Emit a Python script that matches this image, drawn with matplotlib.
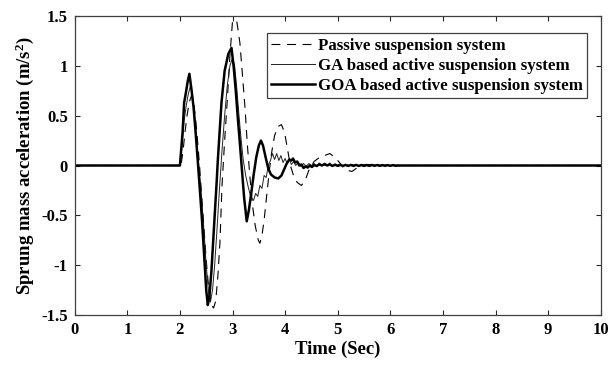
import matplotlib
matplotlib.use("Agg")
import matplotlib.pyplot as plt

# ── data ─────────────────────────────────────────────────────────────────
passive_t = [0.0, 2.02, 2.06, 2.1, 2.14, 2.18, 2.22, 2.26, 2.3, 2.34, 2.38, 2.42, 2.46,
             2.5, 2.55, 2.6, 2.64, 2.68, 2.72, 2.76, 2.8, 2.85, 2.9, 2.95, 3.0, 3.03,
             3.07, 3.1, 3.14, 3.19, 3.24, 3.28, 3.33, 3.38, 3.43, 3.49, 3.52, 3.56,
             3.6, 3.65, 3.7, 3.75, 3.8, 3.86, 3.93, 3.99, 4.05, 4.1, 4.16, 4.23, 4.31,
             4.38, 4.45, 4.55, 4.65, 4.75, 4.85, 4.95, 5.05, 5.12, 5.2, 5.27, 5.35,
             5.45, 5.55, 5.7, 5.85, 6.2, 10.0]
passive_y = [0.0, 0.0, 0.15, 0.35, 0.52, 0.64, 0.7, 0.64, 0.46, 0.22, -0.05, -0.35, -0.65,
             -0.95, -1.25, -1.4, -1.43, -1.36, -1.12, -0.78, -0.2, 0.25, 0.65, 1.1, 1.45, 1.55,
             1.48, 1.38, 1.23, 0.9, 0.56, 0.22, -0.11, -0.4, -0.6, -0.75, -0.78, -0.7,
             -0.55, -0.3, -0.05, 0.15, 0.3, 0.39, 0.41, 0.33, 0.15, 0.0, -0.1, -0.17, -0.2,
             -0.15, -0.05, 0.04, 0.08, 0.1, 0.12, 0.08, 0.02, -0.03, -0.05, -0.06, -0.03,
             0.0, 0.01, 0.01, 0.0, 0.0, 0.0]

ga_t = [0.0, 2.0, 2.04, 2.08, 2.12, 2.16, 2.2, 2.23, 2.27, 2.31, 2.35, 2.4, 2.45, 2.5,
        2.55, 2.58, 2.62, 2.66, 2.7, 2.75, 2.8, 2.85, 2.9, 2.95, 3.0, 3.04, 3.08, 3.12,
        3.16, 3.2, 3.25, 3.3, 3.35, 3.4, 3.44, 3.48, 3.52, 3.56, 3.6, 3.64, 3.68, 3.72,
        3.76, 3.8, 3.84, 3.88, 3.92, 3.96, 4.0, 4.04, 4.08, 4.12, 4.16, 4.2, 4.25, 4.3,
        4.35, 4.4, 4.45, 4.5, 4.55, 4.6, 4.65, 4.7, 4.75, 4.8, 4.85, 4.9, 4.95, 5.0,
        5.05, 5.1, 5.15, 5.2, 5.3, 5.4, 5.5, 5.6, 5.7, 5.8, 5.9, 6.0, 6.1, 6.2, 10.0]
ga_y = [0.0, 0.0, 0.2, 0.45, 0.6, 0.72, 0.8, 0.74, 0.56, 0.3, 0.05, -0.25, -0.6, -1.0,
        -1.3, -1.37, -1.25, -1.0, -0.68, -0.25, 0.15, 0.5, 0.8, 1.0, 1.08, 1.0, 0.78, 0.52,
        0.28, 0.07, -0.1, -0.22, -0.32, -0.35, -0.28, -0.31, -0.2, -0.23, -0.1, -0.12, 0.0, 0.05,
        0.12, 0.06, 0.12, 0.05, 0.1, 0.03, 0.07, 0.02, 0.06, 0.01, 0.04, 0.0, 0.03, -0.01,
        0.02, -0.01, 0.02, 0.0, 0.02, -0.01, 0.025, 0.0, 0.025, 0.005, 0.025, -0.005, 0.015, 0.0,
        0.015, -0.005, 0.01, 0.0, 0.008, -0.004, 0.008, 0.0, 0.006, -0.004, 0.006, 0.0, 0.005, 0.0, 0.0]

goa_t = [0.0, 2.0, 2.05, 2.08, 2.11, 2.15, 2.18, 2.22, 2.26, 2.3, 2.34, 2.38, 2.42, 2.46,
         2.5, 2.53, 2.56, 2.6, 2.65, 2.7, 2.72, 2.79, 2.85, 2.92, 2.98, 3.02, 3.06, 3.1,
         3.14, 3.18, 3.22, 3.27, 3.31, 3.35, 3.4, 3.45, 3.5, 3.54, 3.58, 3.63, 3.68,
         3.73, 3.8, 3.87, 3.93, 3.98, 4.03, 4.08, 4.12, 4.15, 4.19, 4.23, 4.27, 4.31,
         4.35, 4.39, 4.43, 4.47, 4.51, 4.55, 4.6, 4.65, 4.7, 4.75, 4.8, 4.85, 4.9, 4.95,
         5.0, 5.05, 5.1, 5.15, 5.2, 5.25, 5.3, 5.35, 5.4, 5.45, 5.5, 5.55, 5.6, 5.65,
         5.7, 5.75, 5.8, 5.85, 5.9, 5.95, 6.0, 6.05, 6.1, 6.15, 6.2, 10.0]
goa_y = [0.0, 0.0, 0.33, 0.63, 0.72, 0.85, 0.92, 0.76, 0.58, 0.32, 0.04, -0.25, -0.55, -0.9,
         -1.25, -1.4, -1.32, -1.05, -0.6, -0.15, 0.05, 0.63, 0.95, 1.12, 1.18, 1.0, 0.76, 0.48,
         0.22, -0.05, -0.32, -0.56, -0.45, -0.3, -0.1, 0.08, 0.2, 0.25, 0.2, 0.08, -0.03,
         -0.09, -0.12, -0.13, -0.1, -0.04, 0.02, 0.06, 0.05, 0.07, 0.03, 0.04, 0.0, 0.01,
         -0.025, -0.01, -0.02, 0.0, -0.015, 0.005, -0.005, 0.012, 0.0, 0.012, 0.0, 0.01, -0.004, 0.008,
         -0.004, 0.006, -0.004, 0.006, -0.004, 0.006, -0.004, 0.006, -0.004, 0.005, -0.004, 0.005, -0.004, 0.005,
         -0.003, 0.005, -0.003, 0.004, -0.003, 0.004, -0.003, 0.004, -0.003, 0.0, 0.0, 0.0]

labels = ["Passive suspension system",
          "GA based active suspension system",
          "GOA based active suspension system"]

# ── figure ───────────────────────────────────────────────────────────────
plt.rcParams["font.family"] = ["Liberation Serif", "DejaVu Serif"]
plt.rcParams["font.weight"] = "bold"
plt.rcParams["mathtext.fontset"] = "custom"
plt.rcParams["mathtext.rm"] = "Liberation Serif:bold"
plt.rcParams["mathtext.it"] = "Liberation Serif:bold"
plt.rcParams["mathtext.bf"] = "Liberation Serif:bold"

fig = plt.figure(figsize=(6.1, 3.68), dpi=100)
ax = fig.add_axes([0.1225, 0.144, 0.8623, 0.8125])

l1, = ax.plot(passive_t, passive_y, color="black", lw=0.8, label=labels[0])
l1.set_dashes([8, 6])
ax.plot(ga_t, ga_y, color="#222222", lw=0.7, label=labels[1])
ax.plot(goa_t, goa_y, color="black", lw=1.8, label=labels[2])

ax.set_xlim(0, 10)
ax.set_ylim(-1.5, 1.5)
ax.set_xticks(range(0, 11))
ax.set_yticks([-1.5, -1, -0.5, 0, 0.5, 1, 1.5])
ax.set_yticklabels(["-1.5", "-1", "-0.5", "0", "0.5", "1", "1.5"])
ax.tick_params(direction="in", length=3.5, width=0.8, top=True, right=True,
               labelsize=12, color="#262626", pad=5)
for s in ax.spines.values():
    s.set_color("#404040")
    s.set_linewidth(0.9)

ax.set_xlabel("Time (Sec)", fontsize=13.5, fontweight="bold", labelpad=2)
ax.set_ylabel(r"Sprung mass acceleration (m/s$^2$)", fontsize=13.5,
              fontweight="bold", labelpad=4)

leg = ax.legend(loc="upper right", bbox_to_anchor=(0.9745, 0.942), fontsize=12.2,
                handlelength=2.6, handletextpad=0.2, labelspacing=0.24,
                borderpad=0.25, borderaxespad=0.0, fancybox=False, framealpha=1)
leg.get_frame().set_edgecolor("#404040")
leg.get_frame().set_linewidth(0.9)

fig.savefig("out.png", dpi=100)
